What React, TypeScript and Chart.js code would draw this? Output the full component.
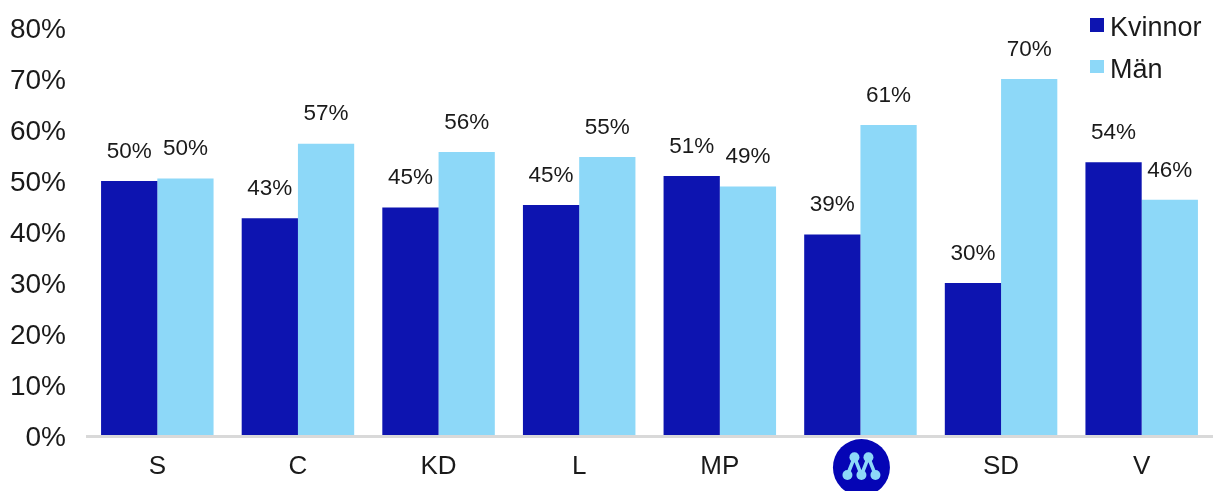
import React, { useEffect, useRef } from "react";
import { Chart, registerables } from "chart.js";

Chart.register(...registerables);

const categories = ["S", "C", "KD", "L", "MP", "M", "SD", "V"];
const kvinnor = [50, 42.7, 44.8, 45.3, 51, 39.5, 30, 53.7];
const man = [50.5, 57.3, 55.7, 54.7, 48.9, 61, 70, 46.3];
const kvinnorLabels = ["50%", "43%", "45%", "45%", "51%", "39%", "30%", "54%"];
const manLabels = ["50%", "57%", "56%", "55%", "49%", "61%", "70%", "46%"];
const seriesNames = ["Kvinnor", "Män"];
const DARK = "#0d14b0";
const LIGHT = "#8dd8f8";
const TEXT = "#1a1a1a";
const FONT = '"Liberation Sans", Arial, sans-serif';

const valueLabels = {
  id: "valueLabels",
  afterDatasetsDraw(chart: any) {
    const { ctx } = chart;
    const labelSets = [kvinnorLabels, manLabels];
    ctx.save();
    ctx.font = `22.5px ${FONT}`;
    ctx.fillStyle = TEXT;
    ctx.textAlign = "center";
    ctx.textBaseline = "middle";
    chart.data.datasets.forEach((_: any, d: number) => {
      chart.getDatasetMeta(d).data.forEach((bar: any, i: number) => {
        ctx.fillText(labelSets[d][i], bar.x, bar.y - 29.5);
      });
    });
    ctx.restore();
  },
};

const partyLogo = {
  id: "partyLogo",
  afterDraw(chart: any) {
    const { ctx, scales } = chart;
    const cx = scales.x.getPixelForValue(categories.indexOf("M")) + 1;
    const cy = 467.5;
    ctx.save();
    ctx.fillStyle = "#0505b5";
    ctx.beginPath();
    ctx.arc(cx, cy, 28.5, 0, Math.PI * 2);
    ctx.fill();
    const top = cy - 10.2;
    const bottom = cy + 7.5;
    const pts: [number, number][] = [
      [cx - 14, bottom],
      [cx - 7, top],
      [cx, bottom],
      [cx + 7, top],
      [cx + 14, bottom],
    ];
    ctx.strokeStyle = LIGHT;
    ctx.lineWidth = 3.5;
    ctx.beginPath();
    pts.forEach(([x, y], i) => (i ? ctx.lineTo(x, y) : ctx.moveTo(x, y)));
    ctx.stroke();
    ctx.fillStyle = LIGHT;
    pts.forEach(([x, y]) => {
      ctx.beginPath();
      ctx.arc(x, y, 5, 0, Math.PI * 2);
      ctx.fill();
    });
    ctx.restore();
  },
};

const sideLegend = {
  id: "sideLegend",
  afterDraw(chart: any) {
    const { ctx } = chart;
    ctx.save();
    ctx.font = `27px ${FONT}`;
    ctx.textBaseline = "alphabetic";
    ctx.textAlign = "left";
    const rows = [
      { box: 18, h: 14, base: 36 },
      { box: 60, h: 13, base: 78 },
    ];
    seriesNames.forEach((name, i) => {
      ctx.fillStyle = chart.data.datasets[i].backgroundColor;
      ctx.fillRect(1090, rows[i].box, 14, rows[i].h);
      ctx.fillStyle = TEXT;
      ctx.fillText(name, 1110, rows[i].base);
    });
    ctx.restore();
  },
};

export default function App() {
  const ref = useRef<HTMLCanvasElement>(null);
  useEffect(() => {
    document.body.style.margin = "0";
    const chart = new Chart(ref.current!, {
      type: "bar",
      data: {
        labels: categories,
        datasets: [
          { label: seriesNames[0], data: kvinnor, backgroundColor: DARK },
          { label: seriesNames[1], data: man, backgroundColor: LIGHT },
        ],
      },
      plugins: [valueLabels, partyLogo, sideLegend],
      options: {
        animation: false,
        responsive: false,
        layout: { autoPadding: false, padding: { top: 28, right: 3, left: 0, bottom: 0 } },
        plugins: {
          legend: { display: false },
          tooltip: { enabled: false },
        },
        datasets: { bar: { categoryPercentage: 0.8, barPercentage: 1 } },
        scales: {
          x: {
            afterFit: (s: any) => {
              s.height = 55;
              s.paddingLeft = 0;
              s.paddingRight = 0;
            },
            grid: { display: false, drawTicks: false },
            border: { display: true, color: "#d9d9d9", width: 3, z: 1 },
            ticks: {
              color: TEXT,
              font: { family: FONT, size: 26 },
              padding: 15,
              maxRotation: 0,
              callback: (_: any, i: number) => (categories[i] === "M" ? "" : categories[i]),
            },
          },
          y: {
            min: 0,
            max: 80,
            afterFit: (s: any) => {
              s.width = 87;
              s.paddingTop = 0;
              s.paddingBottom = 0;
            },
            grid: { display: false, drawTicks: false },
            border: { display: false },
            ticks: {
              stepSize: 10,
              color: TEXT,
              font: { family: FONT, size: 28 },
              padding: 21,
              labelOffset: 2,
              callback: (v: any) => `${v}%`,
            },
          },
        },
      },
    });
    return () => chart.destroy();
  }, []);
  return <canvas ref={ref} width={1215} height={491} style={{ display: "block" }} />;
}
